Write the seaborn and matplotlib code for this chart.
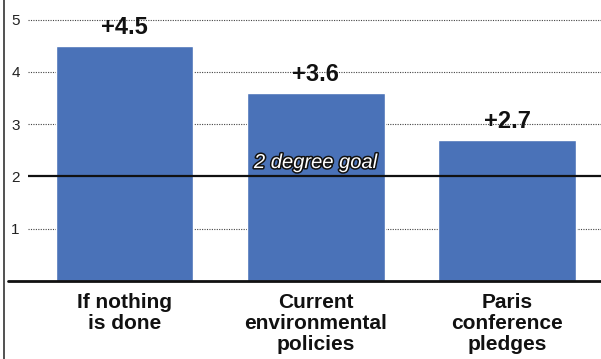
import pandas as pd
import matplotlib.pyplot as plt
import matplotlib.patheffects as pe
from matplotlib.lines import Line2D
import seaborn as sns

categories = ['If nothing\nis done', 'Current\nenvironmental\npolicies', 'Paris\nconference\npledges']
warming = [4.5, 3.6, 2.7]
yticks = [1, 2, 3, 4, 5]
goal = 2.0

df = pd.DataFrame({'scenario': categories, 'warming': warming})

sns.set_style('white')
plt.rcParams['font.family'] = ['Liberation Sans', 'DejaVu Sans']

fig = plt.figure(figsize=(6.01, 3.59), dpi=100)
ax = fig.add_axes([28 / 601, 78 / 359, 573 / 601, 281 / 359])

sns.barplot(data=df, x='scenario', y='warming', color='#4a72b8', saturation=1,
            width=0.72, ax=ax, zorder=2)

ax.set_xlim(-0.504, 2.49)
ax.set_ylim(0, 5.373)
ax.set_yticks(yticks)
ax.set_xlabel('')
ax.set_ylabel('')
for s in ax.spines.values():
    s.set_visible(False)

# dotted grid, solid goal line, baseline
for y in yticks:
    if y != goal:
        ax.axhline(y, color='#444444', lw=0.8, ls=(0, (1, 1.2)), zorder=1)
ax.axhline(goal, color='#111111', lw=1.6, zorder=3)
ax.axhline(0, xmin=-20 / 573, xmax=1, color='#111111', lw=2.0, zorder=4, clip_on=False)

ax.tick_params(axis='y', length=0, pad=6, labelsize=11, labelcolor='#222222')
ax.tick_params(axis='x', length=0, pad=9)
for lbl in ax.get_xticklabels():
    lbl.set_fontsize(15)
    lbl.set_fontweight('bold')
    lbl.set_color('#111111')
    lbl.set_linespacing(1.1)

ax.bar_label(ax.containers[0], labels=[f'+{v:.1f}' for v in warming], padding=5,
             fontsize=17, fontweight='bold', color='#111111')

ax.text(1, 2.16, '2 degree goal', ha='center', va='baseline', fontsize=14.5,
        style='italic', color='white', zorder=5,
        path_effects=[pe.withStroke(linewidth=2.2, foreground='#111111')])

fig.add_artist(Line2D([4 / 601, 4 / 601], [0, 1], color='#333333', lw=1.2))

fig.savefig('out.png', dpi=100)
